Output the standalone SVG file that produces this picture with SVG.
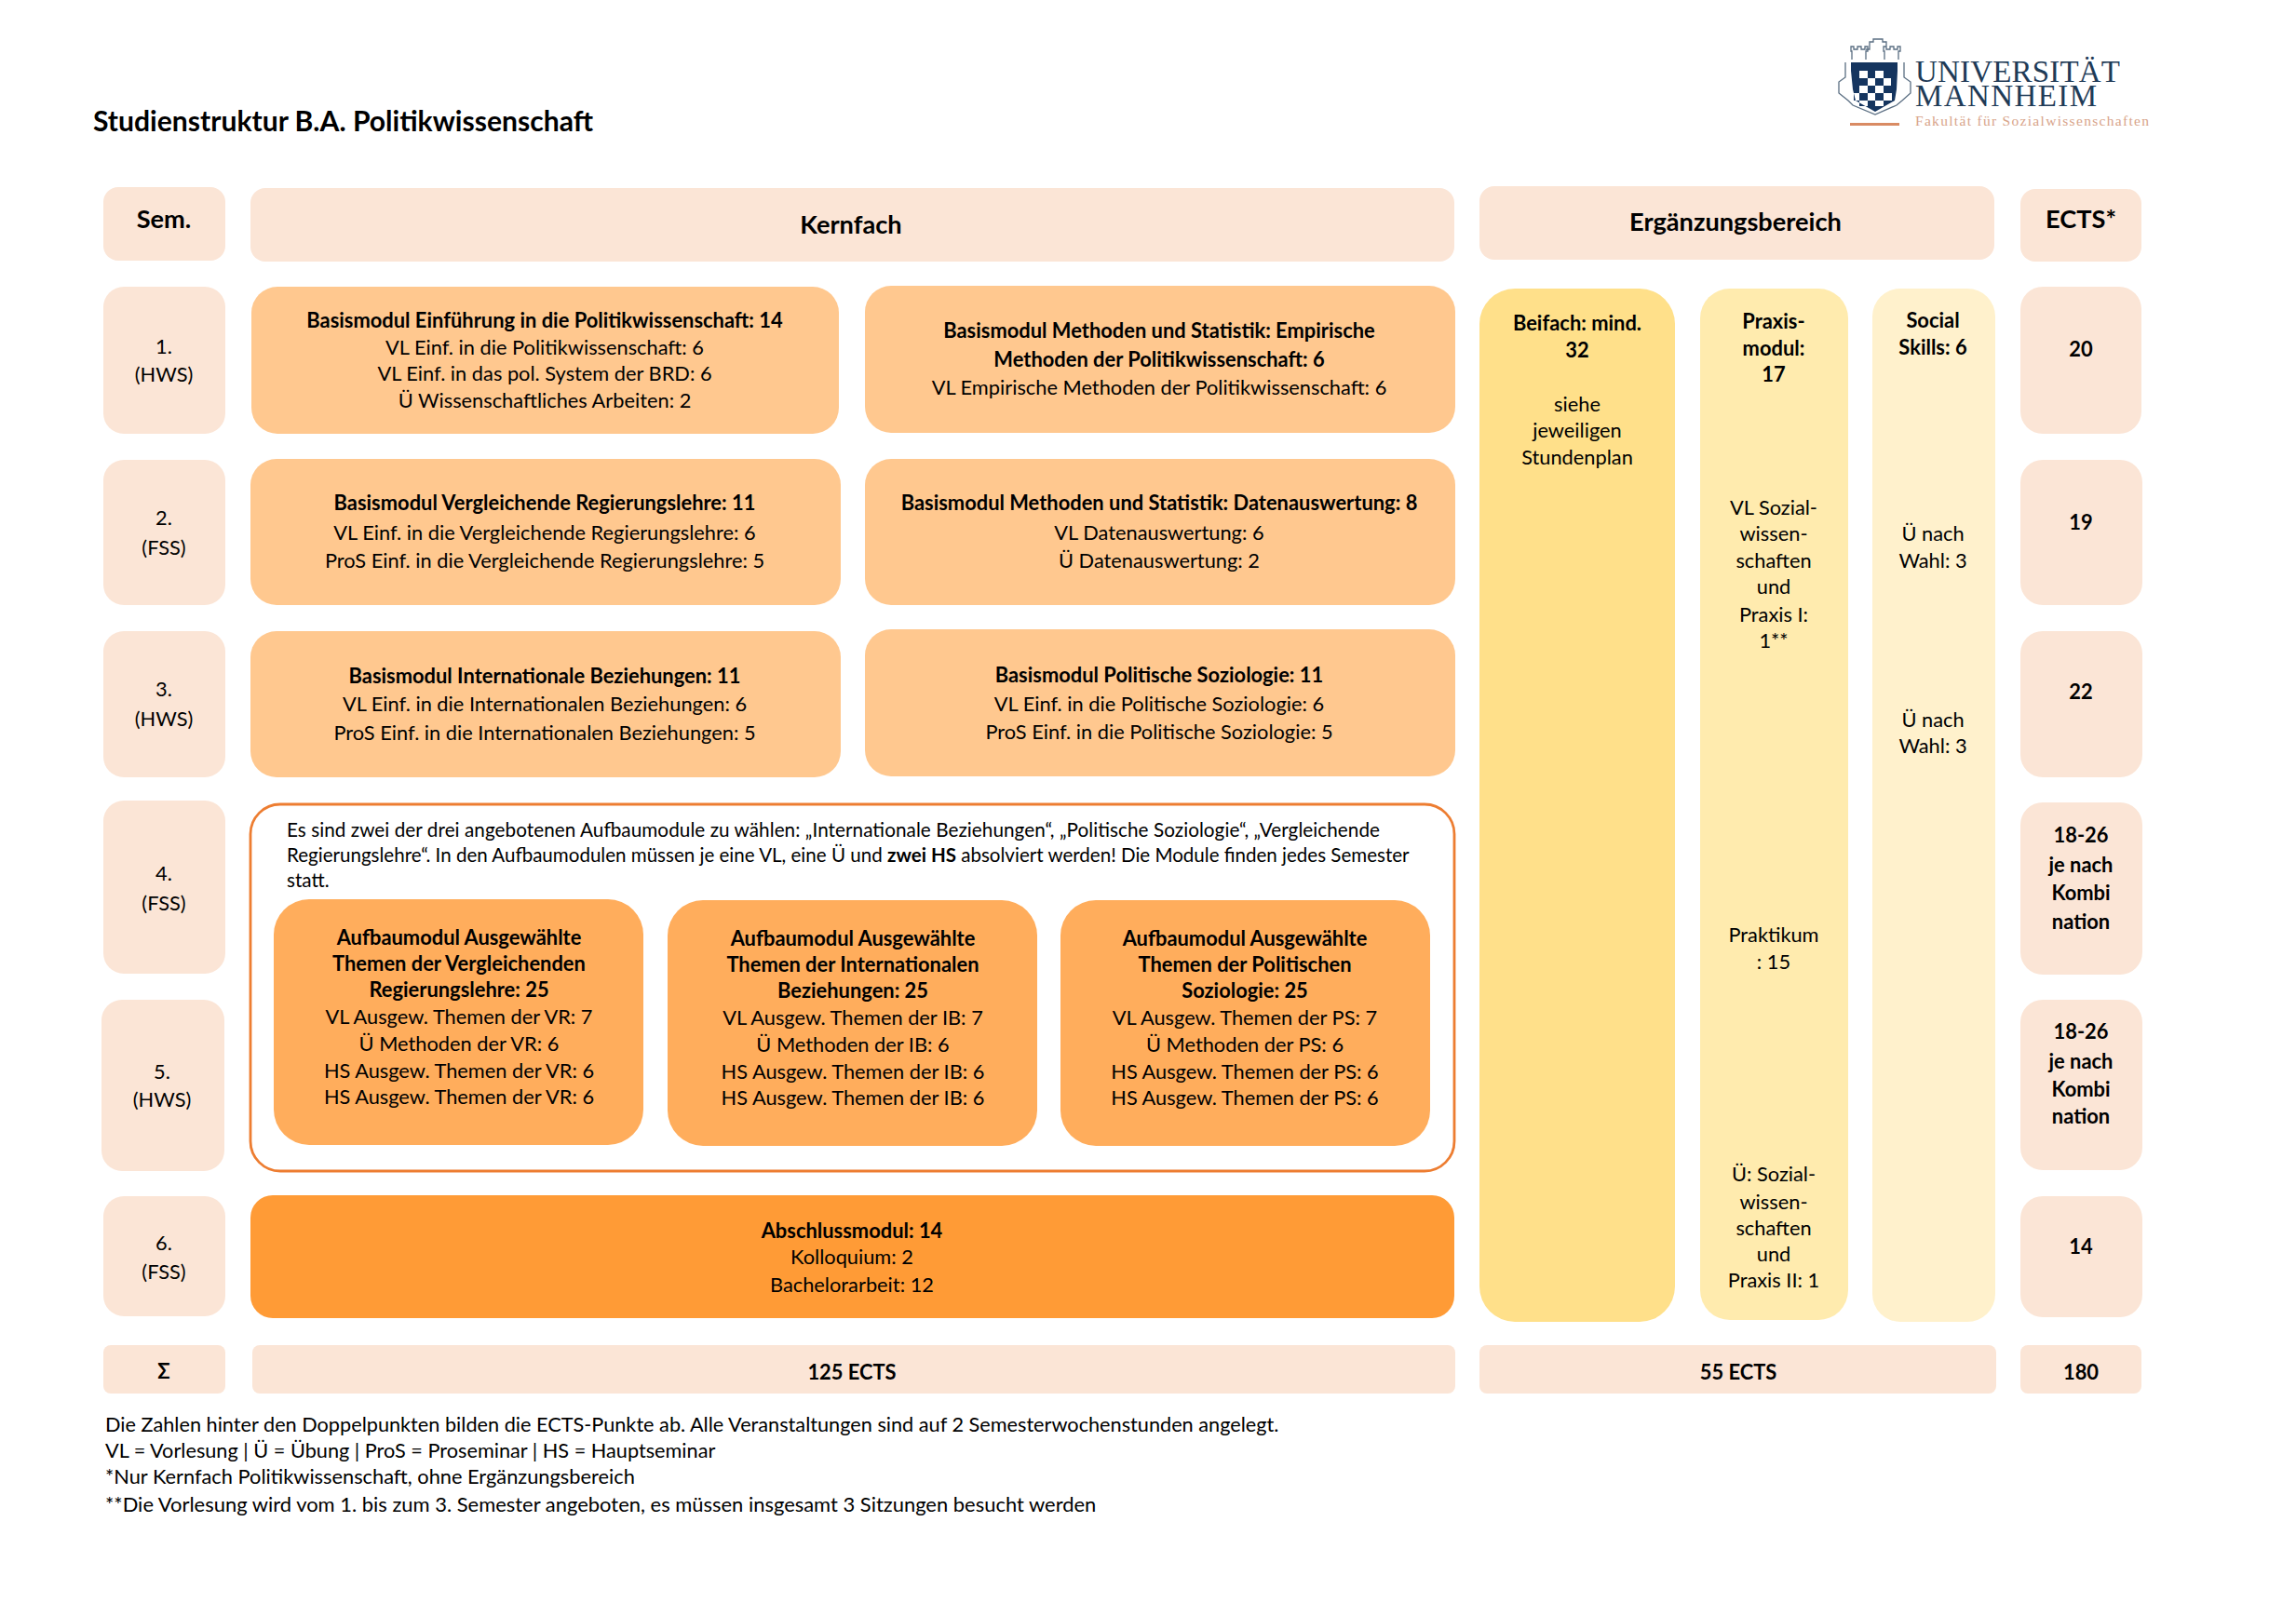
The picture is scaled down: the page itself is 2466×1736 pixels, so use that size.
<svg xmlns="http://www.w3.org/2000/svg" width="2466" height="1736" viewBox="0 0 2466 1736">
<style>
text{font-family:Lato,"Noto Sans",sans-serif;font-size:21.8px;fill:#000;transform:translateY(1.5px)}
#title text,#logo text,#hdr-sem text,#hdr-ects text,#hdr-erg text{transform:none}
.c{text-anchor:middle}
.b{font-weight:700;font-size:21.9px}
.h{font-weight:700;font-size:27.2px}
.f{font-size:20.7px}
.f .b{font-size:20.7px}
.l{fill:#fbe5d6}
.m{fill:#ffc88f}
.a{fill:#ffad5c}
</style>
<rect width="2466" height="1736" fill="#fff"/>
<g id="title"><text x="100" y="141" class="b" style="font-size:30.1px">Studienstruktur B.A. Politikwissenschaft</text></g>
<g id="logo">
<g fill="none" stroke="#5a6e82" stroke-width="1.3">
<path d="M1989 64V55h-1v-5h3v3h4v-3h4v3h4v-3h3v5h-2v9M2024 64V55h-1v-5h3v3h4v-3h4v3h4v-3h3v5h-2v9M2004 53h4v-8h4v-3h10v3h4v8h4"/>
<path d="M1982 67v16l-7 5v12l10 8 5 5 24 10 23-10 6-5 9-8V88l-7-5V67"/>
</g>
<path fill="#15355f" fill-rule="evenodd" d="M1988 67h50v9l-1 20-2 12-21 12-21-12-3-12-2-20zM1997 76v8h9v-8zM2014 76v8h9v-8zM2006 84v8h8v-8zM2023 84v8h8v-8zM1997 92v8h9v-8zM2014 92v8h9v-8zM1991 100v8h6v-8zM2006 100v8h8v-8zM2023 100v8h9v-8zM1997 108v6h9v-6zM2014 108v6h9v-6z"/>
<text x="2057" y="88" textLength="220" lengthAdjust="spacing" style="font-family:'Liberation Serif',serif;font-size:33px;fill:#1f3b57">UNIVERSITÄT</text>
<text x="2057" y="114" textLength="195" lengthAdjust="spacing" style="font-family:'Liberation Serif',serif;font-size:33px;fill:#1f3b57">MANNHEIM</text>
<text x="2057" y="135" textLength="251" lengthAdjust="spacing" style="font-family:'Liberation Serif',serif;font-size:15.5px;fill:#d8a48a">Fakultät für Sozialwissenschaften</text>
<rect x="1987" y="132" width="53" height="3" fill="#d98b63"/>
</g>

<g id="hdr-sem"><rect class="l" x="111" y="201" width="131" height="79" rx="16"/><text class="c h" x="176" y="245">Sem.</text></g>
<g id="hdr-kern"><rect class="l" x="269" y="202" width="1293" height="79" rx="16"/><text class="c h" x="914" y="249">Kernfach</text></g>
<g id="hdr-erg"><rect class="l" x="1589" y="200" width="553" height="79" rx="16"/><text class="c h" x="1864" y="248">Ergänzungsbereich</text></g>
<g id="hdr-ects"><rect class="l" x="2170" y="203" width="130" height="78" rx="16"/><text class="c h" x="2235" y="245">ECTS*</text></g>

<g id="sem1"><rect class="l" x="111" y="308" width="131" height="158" rx="22"/><text class="c" x="176" y="378">1.</text><text class="c" x="176" y="408">(HWS)</text></g>
<g id="sem2"><rect class="l" x="111" y="494" width="131" height="156" rx="22"/><text class="c" x="176" y="562">2.</text><text class="c" x="176" y="594">(FSS)</text></g>
<g id="sem3"><rect class="l" x="111" y="678" width="131" height="157" rx="22"/><text class="c" x="176" y="746">3.</text><text class="c" x="176" y="778">(HWS)</text></g>
<g id="sem4"><rect class="l" x="111" y="860" width="131" height="186" rx="22"/><text class="c" x="176" y="944">4.</text><text class="c" x="176" y="976">(FSS)</text></g>
<g id="sem5"><rect class="l" x="109" y="1074" width="132" height="184" rx="22"/><text class="c" x="174" y="1157">5.</text><text class="c" x="174" y="1187">(HWS)</text></g>
<g id="sem6"><rect class="l" x="111" y="1285" width="131" height="129" rx="22"/><text class="c" x="176" y="1341">6.</text><text class="c" x="176" y="1372">(FSS)</text></g>

<g id="mod-einf"><rect class="m" x="270" y="308" width="631" height="158" rx="28"/><text class="c b" x="585" y="350">Basismodul Einführung in die Politikwissenschaft: 14</text><text class="c" x="585" y="379">VL Einf. in die Politikwissenschaft: 6</text><text class="c" x="585" y="407">VL Einf. in das pol. System der BRD: 6</text><text class="c" x="585" y="436">Ü Wissenschaftliches Arbeiten: 2</text></g>
<g id="mod-emp"><rect class="m" x="929" y="307" width="634" height="158" rx="28"/><text class="c b" x="1245" y="361">Basismodul Methoden und Statistik: Empirische</text><text class="c b" x="1245" y="392">Methoden der Politikwissenschaft: 6</text><text class="c" x="1245" y="422">VL Empirische Methoden der Politikwissenschaft: 6</text></g>
<g id="mod-vgl"><rect class="m" x="269" y="493" width="634" height="157" rx="28"/><text class="c b" x="585" y="546">Basismodul Vergleichende Regierungslehre: 11</text><text class="c" x="585" y="578">VL Einf. in die Vergleichende Regierungslehre: 6</text><text class="c" x="585" y="608">ProS Einf. in die Vergleichende Regierungslehre: 5</text></g>
<g id="mod-dat"><rect class="m" x="929" y="493" width="634" height="157" rx="28"/><text class="c b" x="1245" y="546">Basismodul Methoden und Statistik: Datenauswertung: 8</text><text class="c" x="1245" y="578">VL Datenauswertung: 6</text><text class="c" x="1245" y="608">Ü Datenauswertung: 2</text></g>
<g id="mod-ib"><rect class="m" x="269" y="678" width="634" height="157" rx="28"/><text class="c b" x="585" y="732">Basismodul Internationale Beziehungen: 11</text><text class="c" x="585" y="762">VL Einf. in die Internationalen Beziehungen: 6</text><text class="c" x="585" y="793">ProS Einf. in die Internationalen Beziehungen: 5</text></g>
<g id="mod-soz"><rect class="m" x="929" y="676" width="634" height="158" rx="28"/><text class="c b" x="1245" y="731">Basismodul Politische Soziologie: 11</text><text class="c" x="1245" y="762">VL Einf. in die Politische Soziologie: 6</text><text class="c" x="1245" y="792">ProS Einf. in die Politische Soziologie: 5</text></g>

<g id="aufbau-frame" class="f"><rect x="269" y="864" width="1293" height="394" rx="32" fill="#fff" stroke="#ed7d31" stroke-width="2.8"/>
<text class="f" x="308" y="897" textLength="1174" lengthAdjust="spacing">Es sind zwei der drei angebotenen Aufbaumodule zu wählen: „Internationale Beziehungen“, „Politische Soziologie“, „Vergleichende</text>
<text class="f" x="308" y="924" style="font-size:20.55px">Regierungslehre“. In den Aufbaumodulen müssen je eine VL, eine Ü und <tspan class="b" style="font-size:20.55px">zwei HS</tspan> absolviert werden! Die Module finden jedes Semester</text>
<text class="f" x="308" y="951">statt.</text></g>
<g id="auf-vr"><rect class="a" x="294" y="966" width="397" height="264" rx="38"/><text class="c b" x="493" y="1013">Aufbaumodul Ausgewählte</text><text class="c b" x="493" y="1041">Themen der Vergleichenden</text><text class="c b" x="493" y="1069">Regierungslehre: 25</text><text class="c" x="493" y="1098">VL Ausgew. Themen der VR: 7</text><text class="c" x="493" y="1127">Ü Methoden der VR: 6</text><text class="c" x="493" y="1156">HS Ausgew. Themen der VR: 6</text><text class="c" x="493" y="1184">HS Ausgew. Themen der VR: 6</text></g>
<g id="auf-ib"><rect class="a" x="717" y="967" width="397" height="264" rx="38"/><text class="c b" x="916" y="1014">Aufbaumodul Ausgewählte</text><text class="c b" x="916" y="1042">Themen der Internationalen</text><text class="c b" x="916" y="1070">Beziehungen: 25</text><text class="c" x="916" y="1099">VL Ausgew. Themen der IB: 7</text><text class="c" x="916" y="1128">Ü Methoden der IB: 6</text><text class="c" x="916" y="1157">HS Ausgew. Themen der IB: 6</text><text class="c" x="916" y="1185">HS Ausgew. Themen der IB: 6</text></g>
<g id="auf-ps"><rect class="a" x="1139" y="967" width="397" height="264" rx="38"/><text class="c b" x="1337" y="1014">Aufbaumodul Ausgewählte</text><text class="c b" x="1337" y="1042">Themen der Politischen</text><text class="c b" x="1337" y="1070">Soziologie: 25</text><text class="c" x="1337" y="1099">VL Ausgew. Themen der PS: 7</text><text class="c" x="1337" y="1128">Ü Methoden der PS: 6</text><text class="c" x="1337" y="1157">HS Ausgew. Themen der PS: 6</text><text class="c" x="1337" y="1185">HS Ausgew. Themen der PS: 6</text></g>

<g id="abschluss"><rect x="269" y="1284" width="1293" height="132" rx="24" fill="#ff9b36"/><text class="c b" x="915" y="1328">Abschlussmodul: 14</text><text class="c" x="915" y="1356">Kolloquium: 2</text><text class="c" x="915" y="1386">Bachelorarbeit: 12</text></g>

<g id="beifach"><rect x="1589" y="310" width="210" height="1110" rx="38" fill="#ffe08a"/><text class="c b" x="1694" y="353">Beifach: mind.</text><text class="c b" x="1694" y="382">32</text><text class="c" x="1694" y="440">siehe</text><text class="c" x="1694" y="468">jeweiligen</text><text class="c" x="1694" y="497">Stundenplan</text></g>
<g id="praxis"><rect x="1826" y="310" width="159" height="1108" rx="32" fill="#ffebae"/><text class="c b" x="1905" y="351">Praxis-</text><text class="c b" x="1905" y="380">modul:</text><text class="c b" x="1905" y="408">17</text>
<text class="c" x="1905" y="551">VL Sozial-</text><text class="c" x="1905" y="579">wissen-</text><text class="c" x="1905" y="608">schaften</text><text class="c" x="1905" y="636">und</text><text class="c" x="1905" y="666">Praxis I:</text><text class="c" x="1905" y="694">1**</text>
<text class="c" x="1905" y="1010">Praktikum</text><text class="c" x="1905" y="1039">: 15</text>
<text class="c" x="1905" y="1267">Ü: Sozial-</text><text class="c" x="1905" y="1297">wissen-</text><text class="c" x="1905" y="1325">schaften</text><text class="c" x="1905" y="1353">und</text><text class="c" x="1905" y="1381">Praxis II: 1</text></g>
<g id="social"><rect x="2011" y="310" width="132" height="1110" rx="30" fill="#fff1cc"/><text class="c b" x="2076" y="350">Social</text><text class="c b" x="2076" y="379">Skills: 6</text><text class="c" x="2076" y="579">Ü nach</text><text class="c" x="2076" y="608">Wahl: 3</text><text class="c" x="2076" y="779">Ü nach</text><text class="c" x="2076" y="807">Wahl: 3</text></g>

<g id="ects1"><rect class="l" x="2170" y="308" width="130" height="158" rx="24"/><text class="c b" x="2235" y="381">20</text></g>
<g id="ects2"><rect class="l" x="2170" y="494" width="131" height="156" rx="24"/><text class="c b" x="2235" y="567">19</text></g>
<g id="ects3"><rect class="l" x="2170" y="678" width="131" height="157" rx="24"/><text class="c b" x="2235" y="749">22</text></g>
<g id="ects4"><rect class="l" x="2170" y="862" width="131" height="185" rx="24"/><text class="c b" x="2235" y="903">18-26</text><text class="c b" x="2235" y="935">je nach</text><text class="c b" x="2235" y="965">Kombi</text><text class="c b" x="2235" y="996">nation</text></g>
<g id="ects5"><rect class="l" x="2170" y="1074" width="131" height="183" rx="24"/><text class="c b" x="2235" y="1114">18-26</text><text class="c b" x="2235" y="1146">je nach</text><text class="c b" x="2235" y="1176">Kombi</text><text class="c b" x="2235" y="1205">nation</text></g>
<g id="ects6"><rect class="l" x="2170" y="1285" width="131" height="130" rx="24"/><text class="c b" x="2235" y="1345">14</text></g>

<g id="sum-sem"><rect class="l" x="111" y="1445" width="131" height="52" rx="8"/><text class="c b" x="176" y="1479">Σ</text></g>
<g id="sum-kern"><rect class="l" x="271" y="1445" width="1292" height="52" rx="8"/><text class="c b" x="915" y="1480">125 ECTS</text></g>
<g id="sum-erg"><rect class="l" x="1589" y="1445" width="555" height="52" rx="8"/><text class="c b" x="1867" y="1480">55 ECTS</text></g>
<g id="sum-ects"><rect class="l" x="2170" y="1445" width="130" height="52" rx="8"/><text class="c b" x="2235" y="1480">180</text></g>

<g id="notes">
<text x="113" y="1536" style="font-size:21.7px">Die Zahlen hinter den Doppelpunkten bilden die ECTS-Punkte ab. Alle Veranstaltungen sind auf 2 Semesterwochenstunden angelegt.</text>
<text x="113" y="1564" style="font-size:21.7px">VL = Vorlesung | Ü = Übung | ProS = Proseminar | HS = Hauptseminar</text>
<text x="113" y="1592">*Nur Kernfach Politikwissenschaft, ohne Ergänzungsbereich</text>
<text x="113" y="1622" style="font-size:21.95px">**Die Vorlesung wird vom 1. bis zum 3. Semester angeboten, es müssen insgesamt 3 Sitzungen besucht werden</text>
</g>
</svg>
